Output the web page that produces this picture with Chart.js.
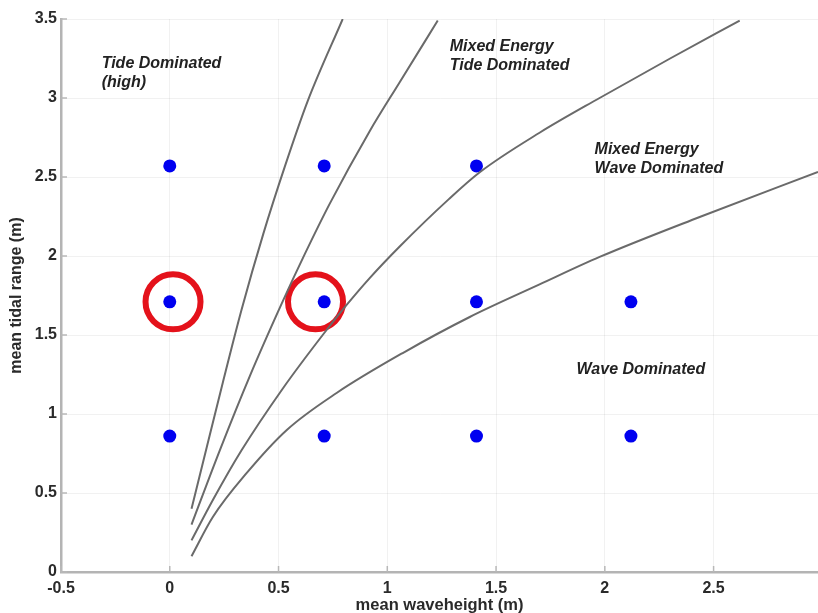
<!DOCTYPE html>
<html><head><meta charset="utf-8">
<script src="https://cdn.jsdelivr.net/npm/chart.js@4/dist/chart.umd.min.js"></script>
<style>html,body{margin:0;padding:0;background:#fff}#wrap{width:818px;height:613px;position:relative}</style>
</head><body><div id="wrap"><canvas id="c" width="818" height="613"></canvas></div>
<script>
// ---- data ----
const xTicks = [-0.5, 0, 0.5, 1, 1.5, 2, 2.5];
const yTicks = [0, 0.5, 1, 1.5, 2, 2.5, 3, 3.5];

const stationX = [0, 0.71, 1.41, 0, 0.71, 1.41, 2.12, 0, 0.71, 1.41, 2.12];
const stationY = [2.57, 2.57, 2.57, 1.71, 1.71, 1.71, 1.71, 0.86, 0.86, 0.86, 0.86];

const circledX = [0.015, 0.67];
const circledY = [1.71, 1.71];

const curve1X = [0.10, 0.17, 0.244, 0.33, 0.43, 0.53, 0.634, 0.795];
const curve1Y = [0.40, 0.79, 1.20, 1.66, 2.14, 2.57, 2.98, 3.50];

const curve2X = [0.10, 0.23, 0.368, 0.515, 0.62, 0.735, 0.919, 1.057, 1.232];
const curve2Y = [0.30, 0.77, 1.24, 1.70, 2.01, 2.33, 2.79, 3.10, 3.49];

const curve3X = [0.10, 0.20, 0.33, 0.519, 0.703, 0.813, 0.919, 1.057, 1.283, 1.425, 1.70, 1.976, 2.30, 2.62];
const curve3Y = [0.20, 0.46, 0.77, 1.16, 1.50, 1.69, 1.86, 2.06, 2.36, 2.53, 2.78, 3.00, 3.25, 3.49];

const curve4X = [0.10, 0.198, 0.354, 0.538, 0.767, 1.071, 1.379, 1.70, 1.976, 2.436, 2.98];
const curve4Y = [0.10, 0.348, 0.627, 0.899, 1.133, 1.386, 1.614, 1.82, 1.994, 2.247, 2.532];

const regionLabels = [
  {lines: ["Tide Dominated", "(high)"], x: -0.313, y: 3.22},
  {lines: ["Mixed Energy", "Tide Dominated"], x: 1.287, y: 3.323},
  {lines: ["Mixed Energy", "Wave Dominated"], x: 1.953, y: 2.671},
  {lines: ["Wave Dominated"], x: 1.870, y: 1.278}
];

const pts = (xs, ys) => xs.map((x, i) => ({x: x, y: ys[i]}));
const FONT = '"Liberation Sans", Arial, Helvetica, sans-serif';

const curveStyle = {showLine: true, pointRadius: 0, borderColor: '#6a6a6a', borderWidth: 2, cubicInterpolationMode: 'monotone', fill: false};

const labelPlugin = {
  id: 'regionLabels',
  afterDatasetsDraw(chart) {
    const {ctx, scales: {x, y}} = chart;
    ctx.save();
    ctx.font = 'italic bold 16px ' + FONT;
    ctx.fillStyle = '#222';
    ctx.textBaseline = 'middle';
    ctx.textAlign = 'left';
    regionLabels.forEach(l => {
      const px = x.getPixelForValue(l.x);
      const py = y.getPixelForValue(l.y);
      l.lines.forEach((t, i) => ctx.fillText(t, px, py + i * 19));
    });
    ctx.restore();
  }
};

const innerTicks = {
  id: 'innerTicks',
  beforeDatasetsDraw(chart) {
    const {ctx, chartArea, scales: {x, y}} = chart;
    ctx.save();
    ctx.strokeStyle = '#b8b8b8';
    ctx.lineWidth = 1.5;
    xTicks.forEach(v => {
      const px = x.getPixelForValue(v);
      ctx.beginPath(); ctx.moveTo(px, chartArea.bottom); ctx.lineTo(px, chartArea.bottom - 6); ctx.stroke();
    });
    yTicks.forEach(v => {
      const py = y.getPixelForValue(v);
      ctx.beginPath(); ctx.moveTo(chartArea.left, py); ctx.lineTo(chartArea.left + 6, py); ctx.stroke();
    });
    ctx.restore();
  }
};

const noPad = s => { s.paddingTop = 0; s.paddingBottom = 0; s.paddingLeft = 0; s.paddingRight = 0; };

new Chart(document.getElementById('c'), {
  type: 'scatter',
  data: {
    datasets: [
      Object.assign({data: pts(curve1X, curve1Y)}, curveStyle),
      Object.assign({data: pts(curve2X, curve2Y)}, curveStyle),
      Object.assign({data: pts(curve3X, curve3Y)}, curveStyle),
      Object.assign({data: pts(curve4X, curve4Y)}, curveStyle),
      {data: pts(stationX, stationY), pointRadius: 6.5, pointBackgroundColor: '#0000f0', pointBorderWidth: 0, showLine: false},
      {data: pts(circledX, circledY), pointRadius: 27.5, pointBorderWidth: 6, pointBorderColor: '#e4121b', pointBackgroundColor: 'rgba(0,0,0,0)', showLine: false}
    ]
  },
  options: {
    responsive: false,
    animation: false,
    layout: {autoPadding: false, padding: {top: 19, right: 0, left: 0, bottom: 0}},
    plugins: {legend: {display: false}, tooltip: {enabled: false}},
    scales: {
      x: {
        type: 'linear', min: -0.5, max: 2.98,
        afterBuildTicks: s => { s.ticks = xTicks.map(v => ({value: v})); },
        afterFit: s => { s.height = 41; noPad(s); },
        grid: {color: 'rgba(0,0,0,0.055)', drawTicks: false, lineWidth: 1},
        border: {color: '#b4b4b4', width: 2.5},
        ticks: {padding: 7, font: {family: FONT, size: 16, weight: 'bold'}, color: '#2a2a2a', maxRotation: 0, autoSkip: false, callback: v => String(v)},
        title: {display: true, text: 'mean waveheight (m)', font: {family: FONT, size: 16.5, weight: 'bold', lineHeight: 1}, color: '#2a2a2a', padding: {top: 0, bottom: -1}}
      },
      y: {
        type: 'linear', min: 0, max: 3.5,
        afterBuildTicks: s => { s.ticks = yTicks.map(v => ({value: v})); },
        afterFit: s => { s.width = 61; noPad(s); },
        grid: {color: 'rgba(0,0,0,0.055)', drawTicks: false, lineWidth: 1},
        border: {color: '#b4b4b4', width: 2.5},
        ticks: {padding: 4, font: {family: FONT, size: 16, weight: 'bold'}, color: '#2a2a2a', autoSkip: false, callback: v => String(v)},
        title: {display: true, text: 'mean tidal range (m)', font: {family: FONT, size: 16, weight: 'bold', lineHeight: 1}, color: '#2a2a2a', padding: {top: 9, bottom: 0}}
      }
    }
  },
  plugins: [innerTicks, labelPlugin]
});
</script>
</body></html>
